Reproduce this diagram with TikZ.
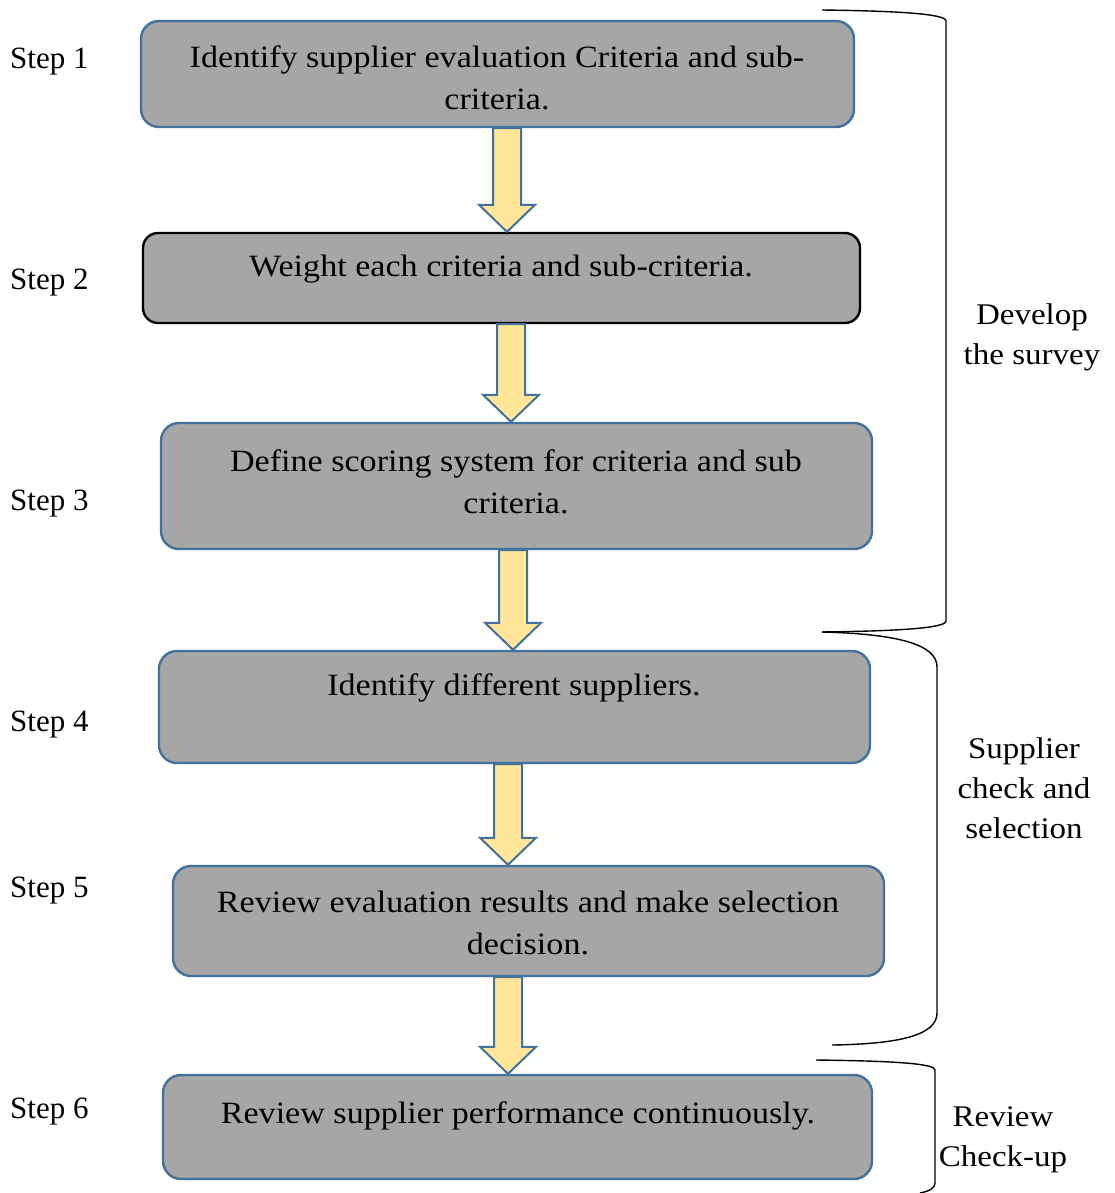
\documentclass[tikz,border=0pt]{standalone}
\usepackage{fontspec}
\setmainfont{Liberation Serif}
\newfontfamily\boxfont[FakeStretch=1.1]{Liberation Serif}
\usetikzlibrary{calc}
\definecolor{boxfill}{HTML}{A6A6A6}
\definecolor{boxblue}{HTML}{41719C}
\definecolor{arrfill}{HTML}{FFE699}
\tikzset{
  stepbox/.style={draw=boxblue, line width=2.4pt, fill=boxfill, rounded corners=18pt, inner sep=0pt},
  boxtext/.style={font=\boxfont\fontsize{31}{42}\selectfont, align=center, inner sep=0pt, anchor=center},
  steplabel/.style={font=\fontsize{31}{34}\selectfont, inner sep=0pt, anchor=west},
  sidelabel/.style={font=\boxfont\fontsize{30}{40}\selectfont, align=center, inner sep=0pt},
  blockarr/.style={draw=boxblue, line width=2pt, fill=arrfill, line join=miter},
  bracket/.style={draw=black, line width=1.4pt}
}
% #1 x of arrow, #2 upper node, #3 lower node
\newcommand\myblockarrow[3]{%
  \draw[blockarr] let \p1=(#2.south), \p2=(#3.north) in
    (#1-14,\y1) -- (#1+14,\y1) -- (#1+14,\y2+27pt) -- (#1+28,\y2+27pt) --
    (#1,\y2) -- (#1-28,\y2+27pt) -- (#1-14,\y2+27pt) -- cycle;}
\begin{document}
\begin{tikzpicture}[x=1pt,y=-1pt]
\useasboundingbox (0,0) rectangle (1114,1193);

% boxes
\node[stepbox, minimum width=713pt, minimum height=106pt] (b1) at (497.5,74) {};
\node[stepbox, draw=black, rounded corners=15pt, minimum width=717pt, minimum height=90pt] (b2) at (501.5,278) {};
\node[stepbox, minimum width=711pt, minimum height=126pt] (b3) at (516.5,486) {};
\node[stepbox, minimum width=711pt, minimum height=112pt] (b4) at (514.5,707) {};
\node[stepbox, minimum width=711pt, minimum height=110pt] (b5) at (528.5,921) {};
\node[stepbox, minimum width=709pt, minimum height=104pt] (b6) at (517.5,1127) {};

% box texts
\node[boxtext] (t1) at (497,78) {Identify supplier evaluation Criteria and sub-\\criteria.};
\node[boxtext] (t2) at (501,269) {Weight each criteria and sub-criteria.};
\node[boxtext] (t3) at (516,482) {Define scoring system for criteria and sub\\criteria.};
\node[boxtext] (t4) at (514,688) {Identify different suppliers.};
\node[boxtext] (t5) at (528,923) {Review evaluation results and make selection\\decision.};
\node[boxtext] (t6) at (518,1116) {Review supplier performance continuously.};

% arrows
\myblockarrow{507}{b1}{b2}
\myblockarrow{511}{b2}{b3}
\myblockarrow{513}{b3}{b4}
\myblockarrow{508}{b4}{b5}
\myblockarrow{508}{b5}{b6}

% step labels
\node[steplabel] (s1) at (10,62) {Step 1};
\node[steplabel] (s2) at (10,283) {Step 2};
\node[steplabel] (s3) at (10,504) {Step 3};
\node[steplabel] (s4) at (10,725) {Step 4};
\node[steplabel] (s5) at (10,891) {Step 5};
\node[steplabel] (s6) at (10,1112) {Step 6};

% brackets
\draw[bracket] (822,10) .. controls (900,11) and (946,14) .. (946,21) -- (946,621)
  .. controls (946,628) and (900,631) .. (822,632);
\draw[bracket] (822,632) .. controls (900,634) and (937,645) .. (937,667) -- (937,1013)
  .. controls (937,1035) and (900,1044) .. (832,1045);
\draw[bracket] (816,1060) .. controls (900,1061) and (935,1064) .. (935,1070) -- (935,1183)
  .. controls (935,1188) and (930,1191) .. (920,1193);

% side labels
\node[sidelabel] (l1) at (1032,337) {Develop\\the survey};
\node[sidelabel] (l2) at (1024,788) {Supplier\\check and\\selection};
\node[sidelabel] (l3) at (1003,1140) {Review\\Check-up};
\end{tikzpicture}
\end{document}
